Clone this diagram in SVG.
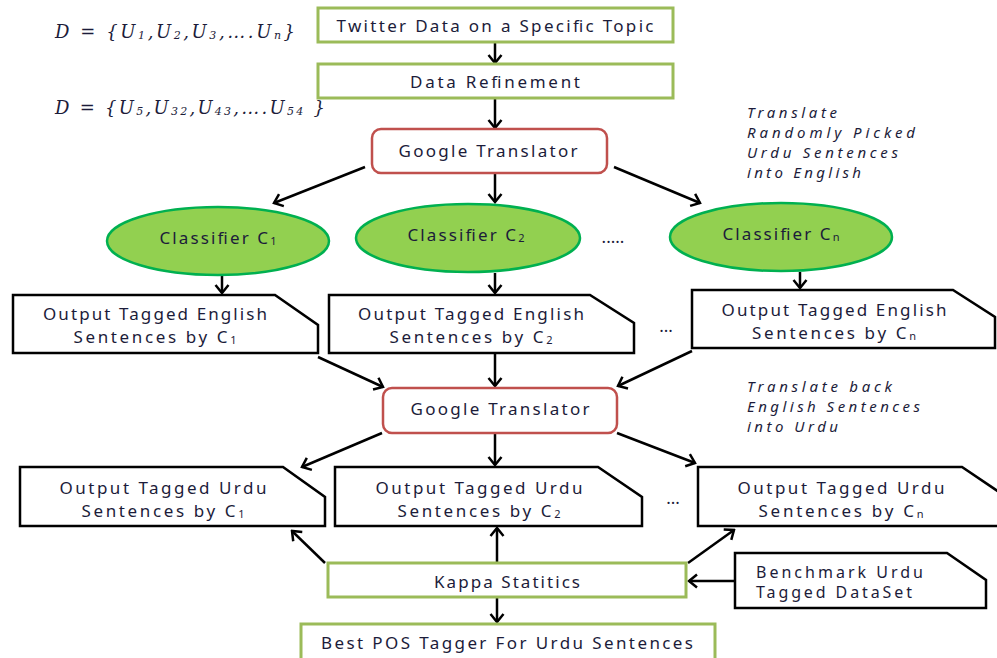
<svg xmlns="http://www.w3.org/2000/svg" width="997" height="658" viewBox="0 0 997 658">
<defs>
<style>
.g{fill:#fff;stroke:#9bbb59;stroke-width:3}
.r{fill:#fff;stroke:#c0504d;stroke-width:2.5}
.e{fill:#92d050;stroke:#00b050;stroke-width:2.5}
.b{fill:#fff;stroke:#000;stroke-width:2.5;stroke-linejoin:miter}
.t{font-family:"Noto Sans","Open Sans",sans-serif;font-size:17px;fill:#1c1c3a;text-anchor:middle;dominant-baseline:central}
.tl{font-family:"Noto Sans","Open Sans",sans-serif;font-size:16px;fill:#1c1c3a;dominant-baseline:central}
.i{font-family:"Noto Sans","Open Sans",sans-serif;font-size:15px;font-style:italic;fill:#1c1c3a;dominant-baseline:central}
.m{font-family:"DejaVu Serif","Liberation Serif",serif;font-size:18px;font-style:italic;fill:#1c1c3a;dominant-baseline:central}
.c{fill:none;stroke:#000;stroke-width:2.5}
.s{font-size:11px}
</style>
<marker id="ah" viewBox="-10 -8 12 16" refX="0" refY="0" markerWidth="12" markerHeight="16" markerUnits="userSpaceOnUse" orient="auto">
<path d="M-8,-6.5 L0,0 L-8,6.5" fill="none" stroke="#000" stroke-width="2.5"/>
</marker>
</defs>
<rect width="997" height="658" fill="#fff"/>

<g id="connectors" class="c" marker-end="url(#ah)">
<line x1="495" y1="42" x2="495" y2="63"/>
<line x1="495" y1="98" x2="495" y2="128"/>
<line x1="365" y1="167" x2="274" y2="203"/>
<line x1="495" y1="173" x2="495" y2="202"/>
<line x1="614" y1="167" x2="700" y2="203"/>
<line x1="222" y1="276" x2="222" y2="293"/>
<line x1="495" y1="273" x2="495" y2="293"/>
<line x1="800" y1="272" x2="800" y2="288"/>
<line x1="318" y1="357" x2="383" y2="387"/>
<line x1="495" y1="354" x2="495" y2="386"/>
<line x1="692" y1="351" x2="618" y2="386"/>
<line x1="382" y1="433" x2="302" y2="467"/>
<line x1="495" y1="434" x2="495" y2="465"/>
<line x1="617" y1="433" x2="695" y2="463"/>
<line x1="325" y1="563" x2="292" y2="531"/>
<line x1="497" y1="563" x2="497" y2="528"/>
<line x1="688" y1="563" x2="734" y2="530"/>
<line x1="735" y1="581" x2="689" y2="581"/>
<line x1="497" y1="598" x2="497" y2="622"/>
</g>

<g id="math">
<text class="m" x="55" y="31" textLength="240" lengthAdjust="spacing">D = {U<tspan class="s" dy="4">1</tspan><tspan dy="-4">,U</tspan><tspan class="s" dy="4">2</tspan><tspan dy="-4">,U</tspan><tspan class="s" dy="4">3</tspan><tspan dy="-4">,….U</tspan><tspan class="s" dy="4">n</tspan><tspan dy="-4">}</tspan></text>
<text class="m" x="55" y="107" textLength="270" lengthAdjust="spacing">D = {U<tspan class="s" dy="4">5</tspan><tspan dy="-4">,U</tspan><tspan class="s" dy="4">32</tspan><tspan dy="-4">,U</tspan><tspan class="s" dy="4">43</tspan><tspan dy="-4">,….U</tspan><tspan class="s" dy="4">54</tspan><tspan dy="-4"> }</tspan></text>
</g>

<g id="twitter">
<rect class="g" x="318" y="8" width="355" height="34"/>
<text class="t" x="495" y="25" textLength="317" lengthAdjust="spacing">Twitter Data on a Specific Topic</text>
</g>
<g id="refine">
<rect class="g" x="318" y="64" width="355" height="34"/>
<text class="t" x="495" y="81" textLength="170" lengthAdjust="spacing">Data Refinement</text>
</g>
<g id="gt1">
<rect class="r" x="372" y="129" width="235" height="44" rx="9"/>
<text class="t" x="488" y="150" textLength="179" lengthAdjust="spacing">Google Translator</text>
</g>
<g id="note1">
<text class="i" x="747" y="112" textLength="90" lengthAdjust="spacing">Translate</text>
<text class="i" x="747" y="132" textLength="168" lengthAdjust="spacing">Randomly Picked</text>
<text class="i" x="747" y="152" textLength="151" lengthAdjust="spacing">Urdu Sentences</text>
<text class="i" x="747" y="172" textLength="114" lengthAdjust="spacing">into English</text>
</g>

<g id="c1">
<ellipse class="e" cx="218" cy="241" rx="111" ry="34"/>
<text class="t" x="218" y="237" textLength="117" lengthAdjust="spacing">Classifier C<tspan class="s" dy="3">1</tspan></text>
</g>
<g id="c2">
<ellipse class="e" cx="468" cy="238" rx="112" ry="34"/>
<text class="t" x="466" y="234" textLength="117" lengthAdjust="spacing">Classifier C<tspan class="s" dy="3">2</tspan></text>
</g>
<text class="t" x="613" y="236">.....</text>
<g id="cn">
<ellipse class="e" cx="781" cy="237" rx="111" ry="34"/>
<text class="t" x="781" y="233" textLength="117" lengthAdjust="spacing">Classifier C<tspan class="s" dy="3">n</tspan></text>
</g>

<g id="e1">
<path class="b" d="M13,295 H275 L318,325 V353 H13 Z"/>
<text class="t" x="155" y="313" textLength="224" lengthAdjust="spacing">Output Tagged English</text>
<text class="t" x="155" y="336" textLength="163" lengthAdjust="spacing">Sentences by C<tspan class="s" dy="3">1</tspan></text>
</g>
<g id="e2">
<path class="b" d="M329,295 H590 L634,323 V353 H329 Z"/>
<text class="t" x="471" y="313" textLength="226" lengthAdjust="spacing">Output Tagged English</text>
<text class="t" x="471" y="336" textLength="163" lengthAdjust="spacing">Sentences by C<tspan class="s" dy="3">2</tspan></text>
</g>
<text class="t" x="666" y="325">...</text>
<g id="en">
<path class="b" d="M692,290 H953 L995,317 V348 H692 Z"/>
<text class="t" x="834" y="309" textLength="225" lengthAdjust="spacing">Output Tagged English</text>
<text class="t" x="834" y="332" textLength="164" lengthAdjust="spacing">Sentences by C<tspan class="s" dy="3">n</tspan></text>
</g>

<g id="gt2">
<rect class="r" x="383" y="388" width="234" height="45" rx="9"/>
<text class="t" x="500" y="408" textLength="179" lengthAdjust="spacing">Google Translator</text>
</g>
<g id="note2">
<text class="i" x="747" y="386" textLength="145" lengthAdjust="spacing">Translate back</text>
<text class="i" x="747" y="406" textLength="173" lengthAdjust="spacing">English Sentences</text>
<text class="i" x="747" y="426" textLength="91" lengthAdjust="spacing">into Urdu</text>
</g>

<g id="u1">
<path class="b" d="M20,467 H283 L325,497 V526 H20 Z"/>
<text class="t" x="163" y="487" textLength="207" lengthAdjust="spacing">Output Tagged Urdu</text>
<text class="t" x="163" y="510" textLength="163" lengthAdjust="spacing">Sentences by C<tspan class="s" dy="3">1</tspan></text>
</g>
<g id="u2">
<path class="b" d="M335,467 H598 L642,497 V526 H335 Z"/>
<text class="t" x="479" y="487" textLength="207" lengthAdjust="spacing">Output Tagged Urdu</text>
<text class="t" x="479" y="510" textLength="163" lengthAdjust="spacing">Sentences by C<tspan class="s" dy="3">2</tspan></text>
</g>
<text class="t" x="673" y="497">...</text>
<g id="un">
<path class="b" d="M698,467 H962 L1002,494 V526 H698 Z"/>
<text class="t" x="841" y="487" textLength="207" lengthAdjust="spacing">Output Tagged Urdu</text>
<text class="t" x="841" y="510" textLength="165" lengthAdjust="spacing">Sentences by C<tspan class="s" dy="3">n</tspan></text>
</g>

<g id="kappa">
<rect class="g" x="328" y="563" width="358" height="34"/>
<text class="t" x="507" y="581" textLength="146" lengthAdjust="spacing">Kappa Statitics</text>
</g>
<g id="bench">
<path class="b" d="M735,553 H947 L986,580 V608 H735 Z"/>
<text class="tl" x="756" y="572" textLength="167" lengthAdjust="spacing">Benchmark Urdu</text>
<text class="tl" x="756" y="592" textLength="156" lengthAdjust="spacing">Tagged DataSet</text>
</g>
<g id="best">
<rect class="g" x="301" y="624" width="414" height="36"/>
<text class="t" x="507" y="642" textLength="372" lengthAdjust="spacing">Best POS Tagger For Urdu Sentences</text>
</g>
</svg>
